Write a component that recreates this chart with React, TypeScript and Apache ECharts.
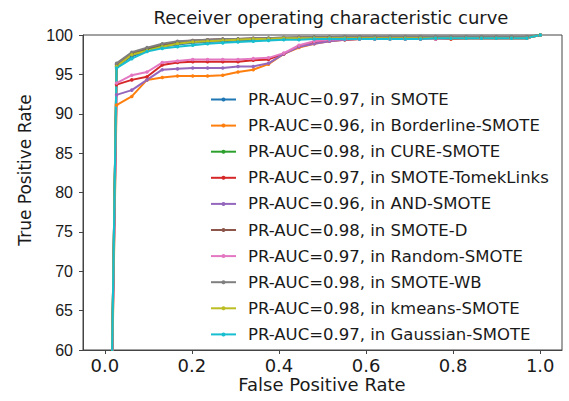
import React, { useEffect, useRef } from "react";
import * as echarts from "echarts";

// False positive rate at each threshold (shared by all curves)
const fpr = [
  0, 0.027, 0.062, 0.097, 0.132, 0.167, 0.202, 0.236, 0.271, 0.306, 0.341,
  0.376, 0.411, 0.446, 0.481, 0.516, 0.551, 0.585, 0.62, 0.655, 0.69, 0.725,
  0.76, 0.795, 0.83, 0.865, 0.899, 0.934, 0.969, 1.0,
];

const methods = [
  "SMOTE",
  "Borderline-SMOTE",
  "CURE-SMOTE",
  "SMOTE-TomekLinks",
  "AND-SMOTE",
  "SMOTE-D",
  "Random-SMOTE",
  "SMOTE-WB",
  "kmeans-SMOTE",
  "Gaussian-SMOTE",
];

const aucs = ["0.97", "0.96", "0.98", "0.97", "0.96", "0.98", "0.97", "0.98", "0.98", "0.97"];

const colors = [
  "#1f77b4", "#ff7f0e", "#2ca02c", "#d62728", "#9467bd",
  "#8c564b", "#e377c2", "#7f7f7f", "#bcbd22", "#17becf",
];

// True positive rate (%) per method
const tprSmote = [0, 96.0, 97.3, 98.0, 98.5, 98.8, 99.0, 99.1, 99.2, 99.3, 99.4, 99.4, 99.5, 99.5, 99.5, 99.5, 99.6, 99.6, 99.6, 99.6, 99.6, 99.6, 99.6, 99.6, 99.6, 99.6, 99.6, 99.6, 99.6, 100];
const tprBorderline = [0, 91.1, 92.2, 94.3, 94.6, 94.8, 94.8, 94.8, 94.9, 95.3, 95.6, 96.3, 97.6, 98.4, 98.9, 99.2, 99.4, 99.5, 99.5, 99.5, 99.5, 99.5, 99.5, 99.5, 99.6, 99.6, 99.6, 99.6, 99.6, 100];
const tprCure = [0, 96.2, 97.6, 98.2, 98.7, 99.0, 99.2, 99.3, 99.4, 99.5, 99.5, 99.6, 99.6, 99.6, 99.7, 99.7, 99.7, 99.7, 99.7, 99.7, 99.7, 99.7, 99.7, 99.7, 99.7, 99.7, 99.7, 99.7, 99.7, 100];
const tprTomek = [0, 93.7, 94.3, 94.7, 96.2, 96.5, 96.6, 96.6, 96.6, 96.6, 96.8, 96.9, 97.6, 98.6, 99.1, 99.3, 99.4, 99.5, 99.5, 99.5, 99.5, 99.5, 99.5, 99.5, 99.6, 99.6, 99.6, 99.6, 99.6, 100];
const tprAnd = [0, 92.4, 93.0, 94.3, 95.6, 95.7, 95.8, 95.8, 95.8, 96.0, 96.0, 96.4, 97.6, 98.5, 98.9, 99.2, 99.4, 99.5, 99.5, 99.5, 99.5, 99.5, 99.5, 99.6, 99.6, 99.6, 99.6, 99.6, 99.6, 100];
const tprSmoteD = [0, 96.3, 97.7, 98.3, 98.8, 99.1, 99.3, 99.4, 99.5, 99.5, 99.6, 99.6, 99.6, 99.7, 99.7, 99.7, 99.7, 99.7, 99.7, 99.7, 99.7, 99.7, 99.7, 99.7, 99.7, 99.7, 99.7, 99.7, 99.7, 100];
const tprRandom = [0, 93.9, 94.9, 95.3, 96.5, 96.7, 96.9, 96.9, 96.9, 96.9, 97.0, 97.1, 97.7, 98.7, 99.2, 99.4, 99.5, 99.5, 99.5, 99.5, 99.5, 99.5, 99.5, 99.6, 99.6, 99.6, 99.6, 99.6, 99.6, 100];
const tprWb = [0, 96.4, 97.8, 98.4, 98.9, 99.2, 99.3, 99.4, 99.5, 99.5, 99.6, 99.6, 99.7, 99.7, 99.7, 99.7, 99.8, 99.8, 99.8, 99.8, 99.8, 99.8, 99.8, 99.8, 99.8, 99.8, 99.8, 99.8, 99.8, 100];
const tprKmeans = [0, 96.0, 97.5, 98.0, 98.5, 98.9, 99.1, 99.2, 99.3, 99.4, 99.5, 99.5, 99.6, 99.6, 99.6, 99.6, 99.6, 99.6, 99.6, 99.6, 99.6, 99.6, 99.6, 99.6, 99.6, 99.6, 99.6, 99.6, 99.6, 100];
const tprGaussian = [0, 95.8, 97.0, 97.9, 98.3, 98.5, 98.7, 98.9, 99.0, 99.1, 99.2, 99.3, 99.4, 99.4, 99.5, 99.5, 99.5, 99.5, 99.5, 99.5, 99.5, 99.5, 99.6, 99.6, 99.6, 99.6, 99.6, 99.6, 99.6, 100];

const tprSeries = [
  tprSmote, tprBorderline, tprCure, tprTomek, tprAnd,
  tprSmoteD, tprRandom, tprWb, tprKmeans, tprGaussian,
];

const xTicks = [0, 0.2, 0.4, 0.6, 0.8, 1.0];

const FONT = "DejaVu Sans";

export default function App() {
  const ref = useRef<HTMLDivElement>(null);

  useEffect(() => {
    if (!ref.current) return;
    const chart = echarts.init(ref.current, null, { renderer: "svg" });

    const series = methods.map((m, k) => ({
      name: `PR-AUC=${aucs[k]}, in ${m}`,
      type: "line",
      data: fpr.map((x, i) => [x, tprSeries[k][i]]),
      symbol: "circle",
      symbolSize: 3.5,
      showAllSymbol: true,
      clip: true,
      lineStyle: { color: colors[k], width: 2 },
      itemStyle: { color: colors[k], borderWidth: 0 },
      emphasis: { disabled: true },
    }));

    chart.setOption({
      animation: false,
      backgroundColor: "#ffffff",
      grid: {
        left: 83,
        right: 7,
        top: 35,
        bottom: 51,
        show: true,
        borderColor: "#444",
        borderWidth: 1,
        backgroundColor: "transparent",
      },
      xAxis: {
        type: "value",
        min: -0.05,
        max: 1.05,
        axisLine: { show: true, onZero: false, lineStyle: { color: "#444", width: 1 } },
        axisTick: {
          show: true,
          customValues: xTicks,
          length: 4,
          lineStyle: { color: "#444" },
        },
        axisLabel: {
          customValues: xTicks,
          formatter: (v: number) => v.toFixed(1),
          fontFamily: FONT,
          fontSize: 18,
          color: "#1a1a1a",
          margin: 6,
        },
        splitLine: { show: false },
      },
      yAxis: {
        type: "value",
        min: 60,
        max: 100,
        interval: 5,
        axisLine: { show: true, onZero: false, lineStyle: { color: "#444", width: 1 } },
        axisTick: { show: true, length: 4, lineStyle: { color: "#444" } },
        axisLabel: {
          fontFamily: "Liberation Sans",
          fontSize: 16,
          color: "#1a1a1a",
          margin: 10,
        },
        splitLine: { show: false },
      },
      legend: {
        orient: "vertical",
        left: 205,
        top: 86,
        itemWidth: 25,
        itemHeight: 5,
        itemGap: 9.1,
        itemStyle: { borderWidth: 0 },
        data: series.map((s) => s.name),
        textStyle: {
          fontFamily: FONT,
          fontSize: 16.5,
          color: "#1a1a1a",
          padding: [0, 0, 0, 7],
        },
      },
      graphic: [
        {
          type: "text",
          x: 331,
          y: 17,
          style: {
            text: "Receiver operating characteristic curve",
            fontFamily: FONT,
            fontSize: 18,
            fill: "#1a1a1a",
            textAlign: "center",
            textVerticalAlign: "middle",
          },
        },
        {
          type: "text",
          x: 322,
          y: 384,
          style: {
            text: "False Positive Rate",
            fontFamily: FONT,
            fontSize: 18,
            fill: "#1a1a1a",
            textAlign: "center",
            textVerticalAlign: "middle",
          },
        },
        {
          type: "text",
          x: 25,
          y: 170,
          rotation: Math.PI / 2,
          style: {
            text: "True Positive Rate",
            fontFamily: FONT,
            fontSize: 17,
            fill: "#1a1a1a",
            textAlign: "center",
            textVerticalAlign: "middle",
          },
        },
      ],
      series,
    });

    return () => chart.dispose();
  }, []);

  return (
    <div
      ref={ref}
      style={{ position: "fixed", left: 0, top: 0, width: 569, height: 401, background: "#fff" }}
    />
  );
}
